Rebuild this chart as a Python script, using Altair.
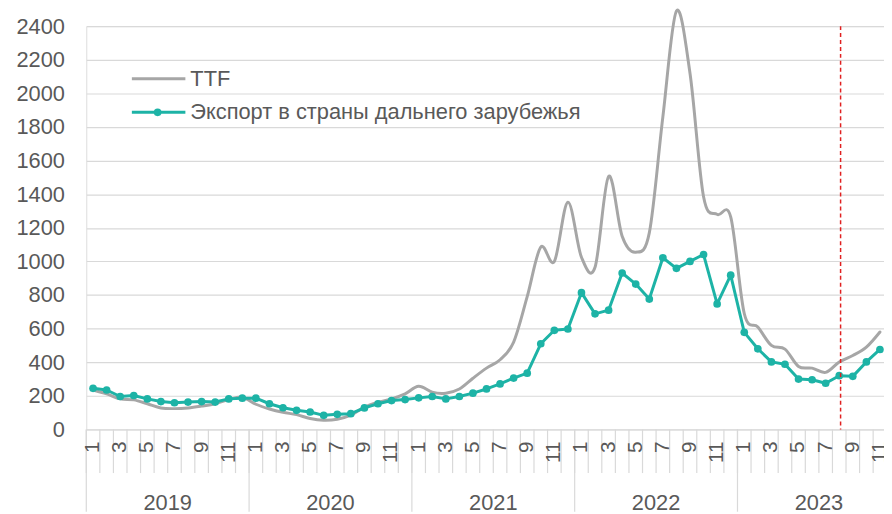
import altair as alt
import pandas as pd

# ---------------- data ----------------
years = [2019, 2020, 2021, 2022, 2023]
month_nums = list(range(1, 13)) * 4 + list(range(1, 12))

ttf = [
    235, 212, 182, 176, 153, 128, 124, 128, 139, 153, 178, 192,   # 2019
    150, 122, 102, 88, 65, 55, 61, 85, 133, 162, 182, 212,        # 2020
    257, 222, 216, 241, 305, 365, 415, 520, 790, 1085, 1000, 1352, # 2021
    1025, 965, 1506, 1150, 1055, 1170, 1860, 2490, 2120, 1385, 1280, 1265,  # 2022
    690, 610, 500, 478, 375, 365, 340, 402, 440, 490, 580,        # 2023
]
export = [
    245, 235, 196, 202, 182, 166, 159, 163, 166, 163, 182, 186,   # 2019
    186, 153, 129, 114, 104, 84, 90, 94, 128, 153, 172, 178,      # 2020
    188, 196, 182, 196, 216, 241, 271, 306, 335, 510, 590, 598,   # 2021
    814, 688, 710, 931, 865, 776, 1022, 959, 1000, 1041, 747, 918,  # 2022
    578, 480, 402, 388, 300, 296, 275, 320, 316, 402, 476,        # 2023
]
legend_labels = ["TTF", "Экспорт в страны дальнего зарубежья"]
y_ticks = list(range(0, 2401, 200))
marker_month = 55.6   # red dashed line (Aug 2023)

# ---------------- style ----------------
FONT = "Liberation Sans"
TXT = "#595959"
GRID = "#D9D9D9"
GRAY = "#A6A6A6"
TEAL = "#1DB3A6"
RED = "#E02020"

W, H = 805, 407
X_MAX = 58.8

n = len(ttf)
df = pd.DataFrame({
    "pos": [i + 0.5 for i in range(n)],
    "ttf": ttf,
    "export": export,
    "month": month_nums,
})
xscale = alt.Scale(domain=[0, X_MAX], nice=False, zero=False)
yscale = alt.Scale(domain=[0, 2400], nice=False, zero=True)
yaxis = alt.Axis(
    values=y_ticks, format="d", grid=True, gridColor=GRID, gridWidth=1.2,
    domain=False, ticks=False, labelFontSize=22, labelColor=TXT,
    labelFont=FONT, labelPadding=22, title=None)

base = alt.Chart(df)

gray_line = base.mark_line(
    interpolate="cardinal", color=GRAY, strokeWidth=3,
    strokeJoin="round", strokeCap="round",
).encode(
    x=alt.X("pos:Q", scale=xscale, axis=None),
    y=alt.Y("ttf:Q", scale=yscale, axis=yaxis),
)

teal_line = base.mark_line(
    color=TEAL, strokeWidth=3, strokeJoin="round",
    point=alt.OverlayMarkDef(filled=True, size=60, color=TEAL, opacity=1),
).encode(
    x=alt.X("pos:Q", scale=xscale, axis=None),
    y=alt.Y("export:Q", scale=yscale, axis=yaxis),
)

# x-axis decoration: month boundary ticks, year separators, labels
bounds = pd.DataFrame({"b": list(range(0, n))})
month_ticks = alt.Chart(bounds).mark_rule(color=GRID, strokeWidth=1.2).encode(
    x=alt.X("b:Q", scale=xscale, axis=None),
    y=alt.value(H), y2=alt.value(H + 44),
)
year_bounds = pd.DataFrame({"b": [12 * k for k in range(len(years))]})
year_ticks = alt.Chart(year_bounds).mark_rule(color=GRID, strokeWidth=1.2).encode(
    x=alt.X("b:Q", scale=xscale, axis=None),
    y=alt.value(H), y2=alt.value(H + 83),
)
month_labels = base.transform_filter("datum.month % 2 == 1").mark_text(
    angle=270, align="right", baseline="middle", font=FONT, fontSize=21, color=TXT,
).encode(
    x=alt.X("pos:Q", scale=xscale, axis=None),
    y=alt.value(H + 12),
    text=alt.Text("month:N"),
)
year_df = pd.DataFrame({"year": [str(y) for y in years],
                        "c": [12 * k + 6 for k in range(len(years))]})
year_labels = alt.Chart(year_df).mark_text(
    align="center", baseline="middle", font=FONT, fontSize=22, color=TXT,
).encode(
    x=alt.X("c:Q", scale=xscale, axis=None),
    y=alt.value(H + 74),
    text="year:N",
)

red_df = pd.DataFrame({"m": [marker_month]})
red_line = alt.Chart(red_df).mark_rule(
    color=RED, strokeDash=[4, 3], strokeWidth=1.5
).encode(
    x=alt.X("m:Q", scale=xscale, axis=None),
    y=alt.value(0), y2=alt.value(H),
)

# manual legend
leg = pd.DataFrame({
    "label": legend_labels,
    "ly": [53, 87],
    "col": [GRAY, TEAL],
    "dot": [False, True],
})
leg_lines = alt.Chart(leg).mark_rule(strokeWidth=3).encode(
    x=alt.value(46), x2=alt.value(100),
    y=alt.Y("ly:Q", scale=None),
    color=alt.Color("col:N", scale=None),
)
leg_dots = alt.Chart(leg).transform_filter("datum.dot").mark_point(
    filled=True, size=60, opacity=1
).encode(
    x=alt.value(72),
    y=alt.Y("ly:Q", scale=None),
    color=alt.Color("col:N", scale=None),
)
leg_text = alt.Chart(leg).mark_text(
    align="left", baseline="middle", font=FONT, fontSize=22, color=TXT
).encode(
    x=alt.value(105),
    y=alt.Y("ly:Q", scale=None),
    text="label:N",
)

chart = alt.layer(
    gray_line, teal_line, month_ticks, year_ticks, month_labels, year_labels,
    red_line, leg_lines, leg_dots, leg_text,
).properties(
    width=W, height=H,
    autosize=alt.AutoSizeParams(type="none"),
    padding={"left": 79, "top": 16, "right": 0, "bottom": 83},
).configure_view(stroke=None).configure(background="white")

chart.save("out.html", embed_options={"renderer": "svg", "actions": False})
